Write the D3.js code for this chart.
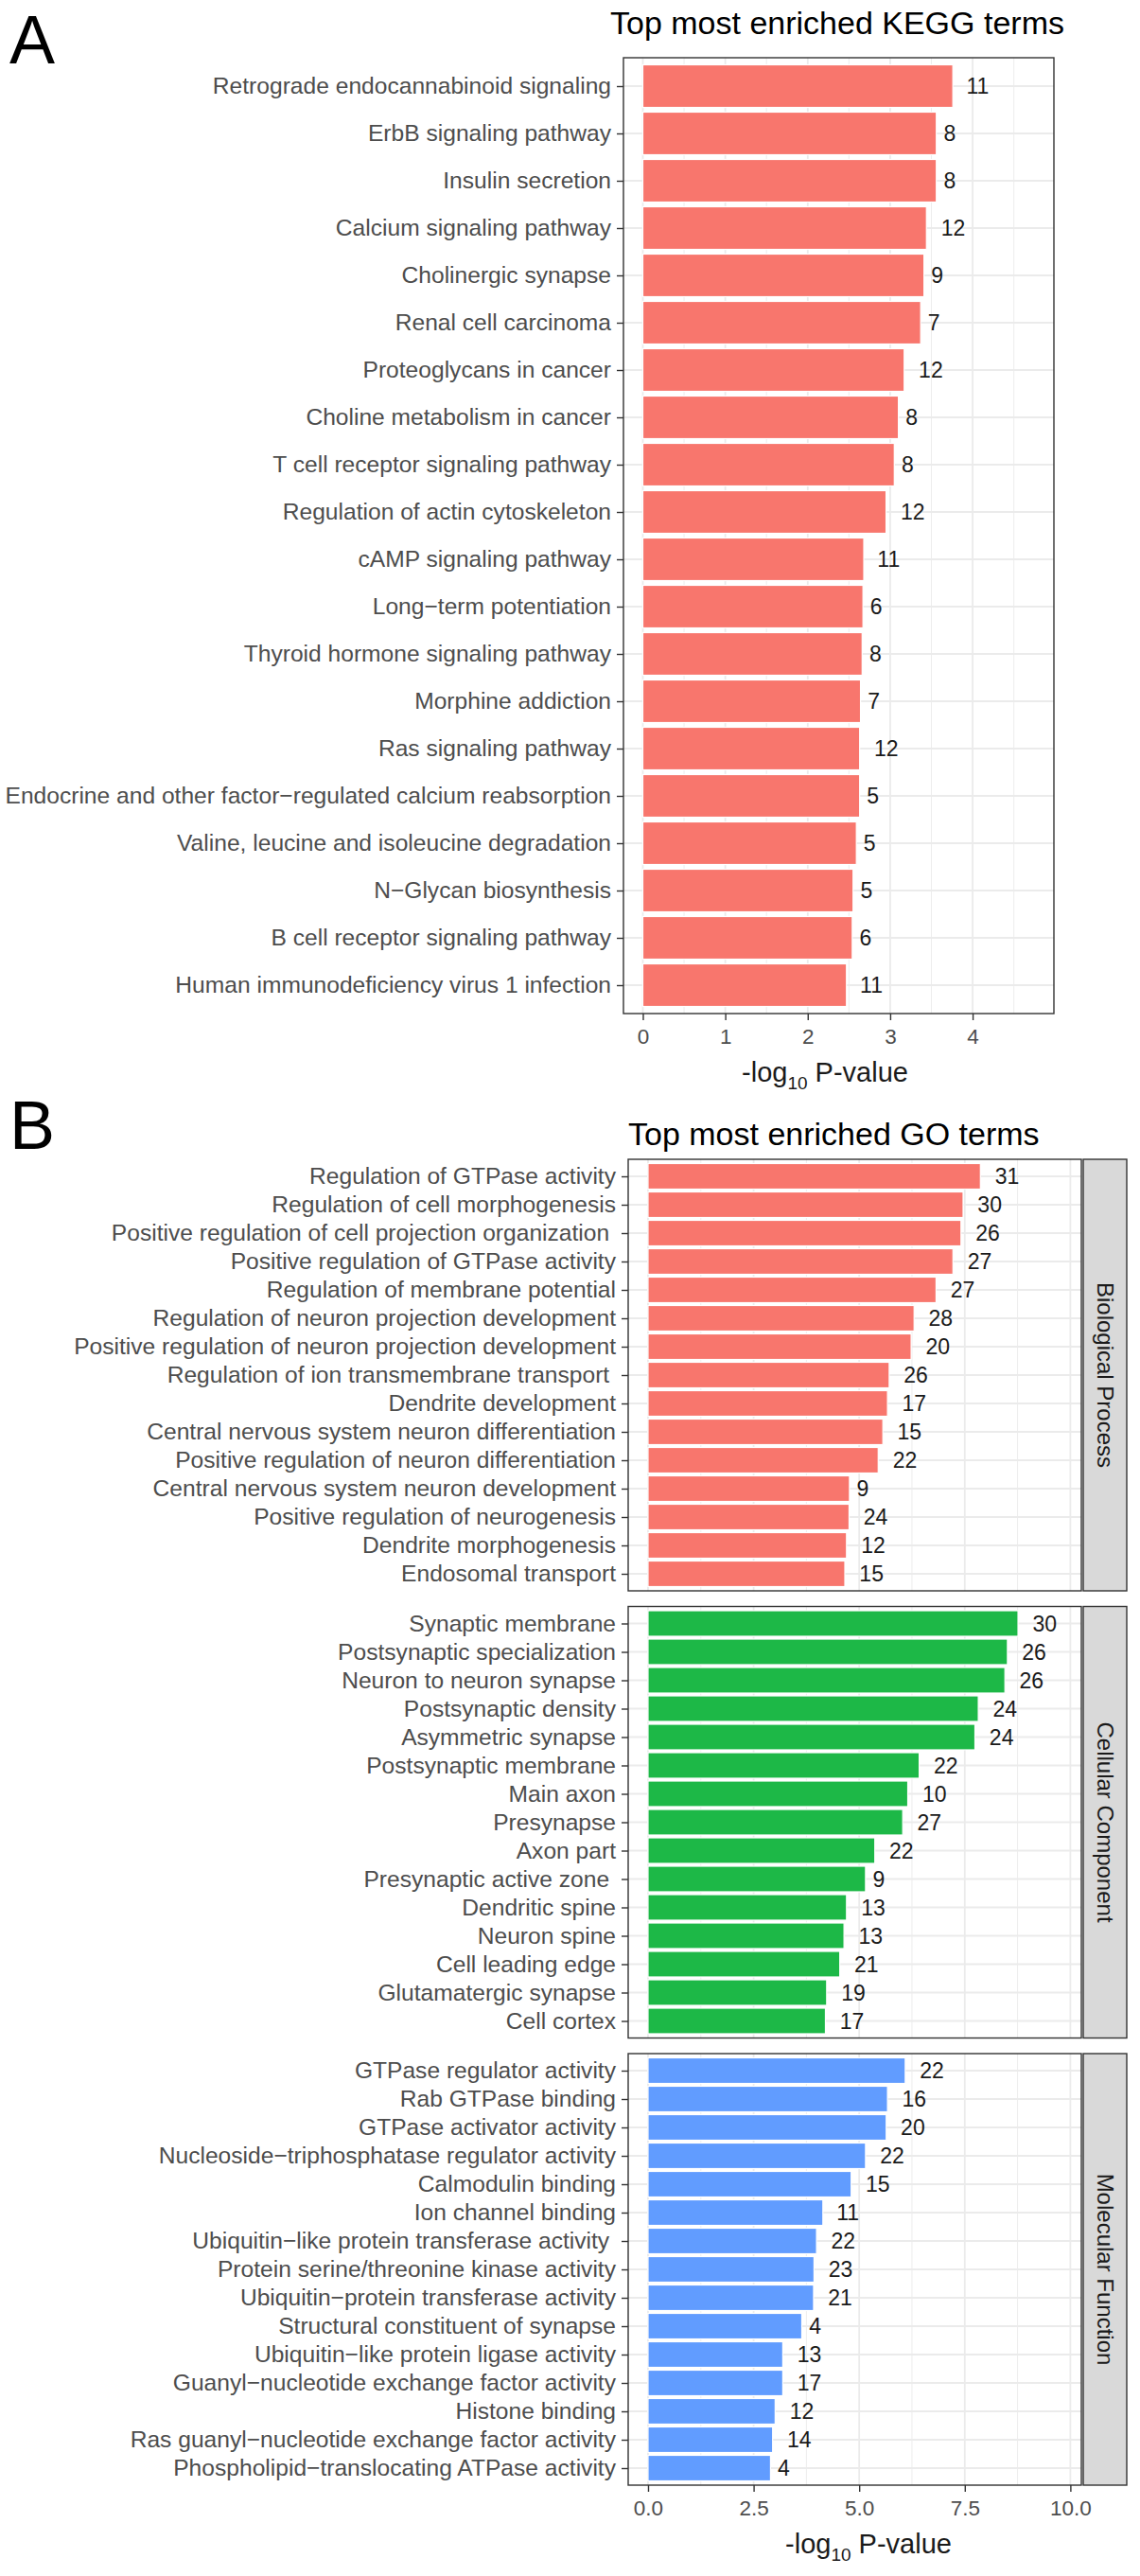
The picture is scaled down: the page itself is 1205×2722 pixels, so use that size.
<!DOCTYPE html>
<html>
<head>
<meta charset="utf-8">
<script src="https://cdn.jsdelivr.net/npm/d3@7"></script>
<style>
  body { margin: 0; background: #fff; }
  svg text { font-family: "Liberation Sans", Arial, sans-serif; white-space: pre; }
</style>
</head>
<body>
<svg id="chart" width="1205" height="2722"></svg>
<script>
// Panel A - KEGG
const keggTerms = [
    "Retrograde endocannabinoid signaling", "ErbB signaling pathway", "Insulin secretion",
    "Calcium signaling pathway", "Cholinergic synapse", "Renal cell carcinoma",
    "Proteoglycans in cancer", "Choline metabolism in cancer", "T cell receptor signaling pathway",
    "Regulation of actin cytoskeleton", "cAMP signaling pathway", "Long\u2212term potentiation",
    "Thyroid hormone signaling pathway", "Morphine addiction", "Ras signaling pathway",
    "Endocrine and other factor\u2212regulated calcium reabsorption",
    "Valine, leucine and isoleucine degradation", "N\u2212Glycan biosynthesis",
    "B cell receptor signaling pathway", "Human immunodeficiency virus 1 infection"
];
const keggValues = [3.76, 3.56, 3.56, 3.44, 3.41, 3.37, 3.17, 3.10, 3.05, 2.95,
                    2.68, 2.67, 2.66, 2.64, 2.63, 2.63, 2.59, 2.55, 2.54, 2.47];
const keggCounts = [11, 8, 8, 12, 9, 7, 12, 8, 8, 12, 11, 6, 8, 7, 12, 5, 5, 5, 6, 11];
const keggTicks = [0, 1, 2, 3, 4];

// Panel B - GO, three facets
const bpTerms = [
    "Regulation of GTPase activity", "Regulation of cell morphogenesis",
    "Positive regulation of cell projection organization ", "Positive regulation of GTPase activity",
    "Regulation of membrane potential", "Regulation of neuron projection development",
    "Positive regulation of neuron projection development", "Regulation of ion transmembrane transport ",
    "Dendrite development", "Central nervous system neuron differentiation",
    "Positive regulation of neuron differentiation", "Central nervous system neuron development",
    "Positive regulation of neurogenesis", "Dendrite morphogenesis", "Endosomal transport"
];
const bpValues = [7.87, 7.46, 7.41, 7.22, 6.82, 6.30, 6.23, 5.71, 5.67, 5.56, 5.45, 4.77, 4.76, 4.70, 4.66];
const bpCounts = [31, 30, 26, 27, 27, 28, 20, 26, 17, 15, 22, 9, 24, 12, 15];

const ccTerms = [
    "Synaptic membrane", "Postsynaptic specialization", "Neuron to neuron synapse",
    "Postsynaptic density", "Asymmetric synapse", "Postsynaptic membrane", "Main axon",
    "Presynapse", "Axon part", "Presynaptic active zone ", "Dendritic spine", "Neuron spine",
    "Cell leading edge", "Glutamatergic synapse", "Cell cortex"
];
const ccValues = [8.76, 8.51, 8.45, 7.82, 7.74, 6.42, 6.15, 6.03, 5.37, 5.15, 4.70, 4.64, 4.54, 4.23, 4.20];
const ccCounts = [30, 26, 26, 24, 24, 22, 10, 27, 22, 9, 13, 13, 21, 19, 17];

const mfTerms = [
    "GTPase regulator activity", "Rab GTPase binding", "GTPase activator activity",
    "Nucleoside\u2212triphosphatase regulator activity", "Calmodulin binding", "Ion channel binding",
    "Ubiquitin\u2212like protein transferase activity ", "Protein serine/threonine kinase activity",
    "Ubiquitin\u2212protein transferase activity", "Structural constituent of synapse",
    "Ubiquitin\u2212like protein ligase activity", "Guanyl\u2212nucleotide exchange factor activity",
    "Histone binding", "Ras guanyl\u2212nucleotide exchange factor activity",
    "Phospholipid\u2212translocating ATPase activity"
];
const mfValues = [6.09, 5.67, 5.64, 5.15, 4.81, 4.14, 3.99, 3.93, 3.92, 3.64, 3.19, 3.19, 3.01, 2.95, 2.90];
const mfCounts = [22, 16, 20, 22, 15, 11, 22, 23, 21, 4, 13, 17, 12, 14, 4];

const goTicks = [0, 2.5, 5, 7.5, 10];
const facetLabels = ["Biological Process", "Cellular Component", "Molecular Function"];
const facetColors = ["#F8766D", "#1DB847", "#619CFF"];

const svg = d3.select("#chart");
const gridColor = "#ebebeb";
const darkLine = "#333333";

// Helper - midpoints between major ticks, plus one step past the ends
function minorTicks(ticks, domain) {
    const step = ticks[1] - ticks[0];
    const out = [];
    for (let v = ticks[0] - step / 2; v <= domain[1]; v += step) {
        if (v >= domain[0]) out.push(v);
    }
    return out;
}

// Draw one ggplot-like panel with horizontal bars
function drawPanel(opts) {
    const { terms, values, counts, x, top, bottom, left, right, color, ticks } = opts;
    const y = d3.scalePoint().domain(terms).range([top, bottom]).padding(0.6);
    const step = y.step();
    const g = svg.append("g");

    g.append("rect")
        .attr("x", left).attr("y", top)
        .attr("width", right - left).attr("height", bottom - top)
        .attr("fill", "#fff");

    g.selectAll("line.minor")
        .data(minorTicks(ticks, x.domain()))
        .join("line")
        .attr("x1", d => x(d)).attr("x2", d => x(d))
        .attr("y1", top).attr("y2", bottom)
        .attr("stroke", gridColor).attr("stroke-width", 0.9);

    g.selectAll("line.major")
        .data(ticks)
        .join("line")
        .attr("x1", d => x(d)).attr("x2", d => x(d))
        .attr("y1", top).attr("y2", bottom)
        .attr("stroke", gridColor).attr("stroke-width", 1.8);

    g.selectAll("line.hgrid")
        .data(terms)
        .join("line")
        .attr("x1", left).attr("x2", right)
        .attr("y1", d => y(d)).attr("y2", d => y(d))
        .attr("stroke", gridColor).attr("stroke-width", 1.8);

    g.selectAll("rect.bar")
        .data(terms)
        .join("rect")
        .attr("x", x(0))
        .attr("y", d => y(d) - step * 0.45)
        .attr("width", (d, i) => x(values[i]) - x(0))
        .attr("height", step * 0.9)
        .attr("fill", color)
        .attr("stroke", "#ffffff")
        .attr("stroke-width", 1.2);

    g.selectAll("text.count")
        .data(terms)
        .join("text")
        .attr("y", d => y(d))
        .attr("dy", "0.36em")
        .attr("font-size", 23)
        .attr("fill", "#1a1a1a")
        .text((d, i) => counts[i])
        .each(function (d, i) {
            const w = this.getComputedTextLength();
            d3.select(this).attr("x", x(values[i]) + 0.6 * w);
        });

    g.append("rect")
        .attr("x", left).attr("y", top)
        .attr("width", right - left).attr("height", bottom - top)
        .attr("fill", "none")
        .attr("stroke", darkLine).attr("stroke-width", 1.4);

    const yAxis = g.append("g")
        .attr("transform", `translate(${left},0)`)
        .call(d3.axisLeft(y).tickSize(7).tickPadding(6));
    yAxis.select(".domain").remove();
    yAxis.selectAll("line").attr("stroke", darkLine).attr("stroke-width", 1.4);
    yAxis.selectAll("text")
        .attr("font-size", 24.6)
        .attr("fill", "#4d4d4d")
        .attr("font-family", null);

    return g;
}

function drawXAxis(x, ticks, bottom, fmt, titleX) {
    const axis = svg.append("g")
        .attr("transform", `translate(0,${bottom})`)
        .call(d3.axisBottom(x).tickValues(ticks).tickSize(7).tickPadding(9).tickFormat(fmt));
    axis.select(".domain").remove();
    axis.selectAll("line").attr("stroke", darkLine).attr("stroke-width", 1.4);
    axis.selectAll("text")
        .attr("font-size", 22.5)
        .attr("fill", "#4d4d4d")
        .attr("font-family", null);

    const title = svg.append("text")
        .attr("x", titleX)
        .attr("y", bottom + 72)
        .attr("text-anchor", "middle")
        .attr("font-size", 29)
        .attr("fill", "#1a1a1a");
    title.append("tspan").text("-log");
    title.append("tspan").attr("font-size", 19).attr("dy", 8).text("10");
    title.append("tspan").attr("dy", -8).text(" P-value");
}

// ---- Panel A ----
const aBox = { left: 659, right: 1114, top: 61, bottom: 1071 };
const xA = d3.scaleLinear().domain([-0.235, 4.986]).range([aBox.left, aBox.right]);

svg.append("text").attr("x", 10).attr("y", 67)
    .attr("font-size", 72).attr("fill", "#000").text("A");
svg.append("text").attr("x", 645).attr("y", 36)
    .attr("font-size", 34).attr("fill", "#000").text("Top most enriched KEGG terms");

drawPanel({
    terms: keggTerms, values: keggValues, counts: keggCounts, x: xA,
    top: aBox.top, bottom: aBox.bottom, left: aBox.left, right: aBox.right,
    color: "#F8766D", ticks: keggTicks
});
drawXAxis(xA, keggTicks, aBox.bottom, d3.format("d"), 872);

// ---- Panel B ----
const bBox = { left: 664, right: 1143, stripRight: 1191, facetHeight: 456, gap: 16.5, top: 1225 };
const xB = d3.scaleLinear().domain([-0.47, 10.26]).range([bBox.left, bBox.right]);

svg.append("text").attr("x", 10).attr("y", 1214)
    .attr("font-size", 72).attr("fill", "#000").text("B");
svg.append("text").attr("x", 664).attr("y", 1210)
    .attr("font-size", 34).attr("fill", "#000").text("Top most enriched GO terms");

const facets = [
    { terms: bpTerms, values: bpValues, counts: bpCounts },
    { terms: ccTerms, values: ccValues, counts: ccCounts },
    { terms: mfTerms, values: mfValues, counts: mfCounts }
];

let lastBottom = 0;
facets.forEach((f, i) => {
    const top = bBox.top + i * (bBox.facetHeight + bBox.gap);
    const bottom = top + bBox.facetHeight;
    lastBottom = bottom;
    drawPanel({
        terms: f.terms, values: f.values, counts: f.counts, x: xB,
        top: top, bottom: bottom, left: bBox.left, right: bBox.right,
        color: facetColors[i], ticks: goTicks
    });

    // facet strip on the right
    svg.append("rect")
        .attr("x", bBox.right + 2).attr("y", top)
        .attr("width", bBox.stripRight - bBox.right - 2).attr("height", bottom - top)
        .attr("fill", "#d9d9d9")
        .attr("stroke", darkLine).attr("stroke-width", 1.4);
    svg.append("text")
        .attr("transform", `translate(${(bBox.right + 2 + bBox.stripRight) / 2},${(top + bottom) / 2}) rotate(90)`)
        .attr("text-anchor", "middle")
        .attr("dy", "0.35em")
        .attr("font-size", 24)
        .attr("fill", "#1a1a1a")
        .text(facetLabels[i]);
});

drawXAxis(xB, goTicks, lastBottom, d3.format(".1f"), 918);
</script>
</body>
</html>
